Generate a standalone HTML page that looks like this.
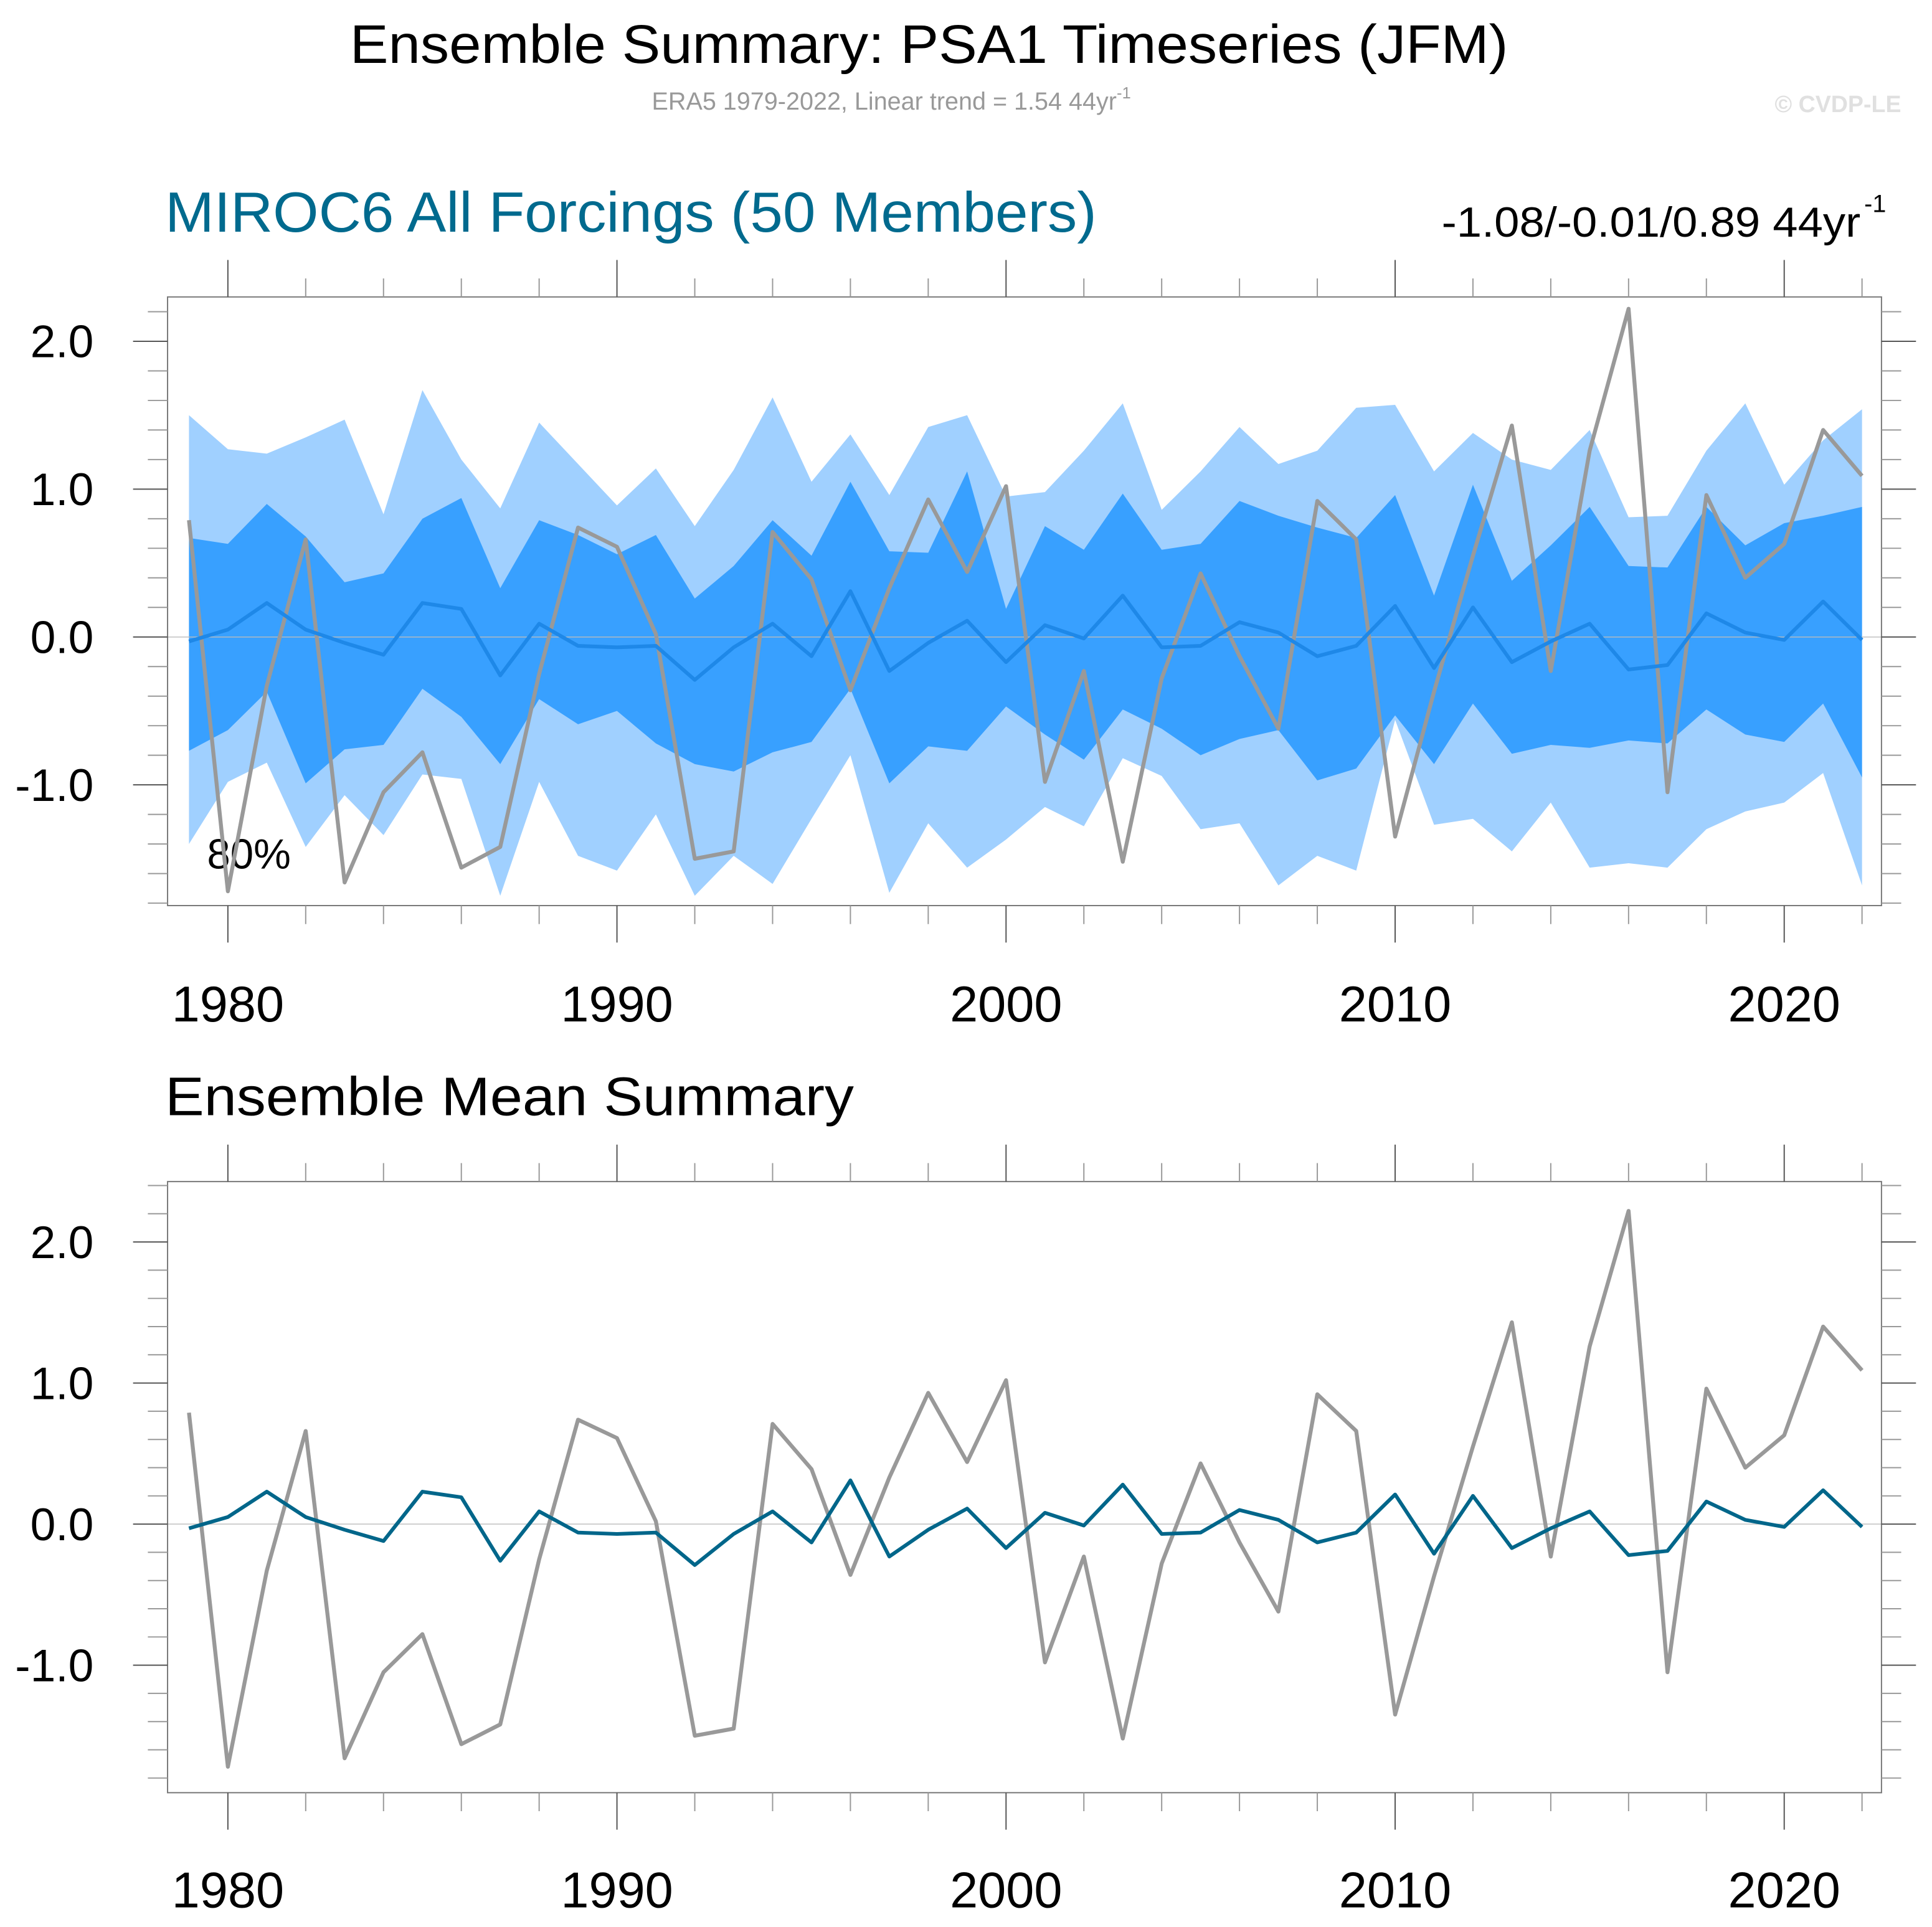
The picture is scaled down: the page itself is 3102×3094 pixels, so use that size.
<!DOCTYPE html>
<html><head><meta charset="utf-8"><style>
html,body{margin:0;padding:0;background:#fff;}
svg{display:block;font-family:"Liberation Sans",sans-serif;}
</style></head><body>
<svg id="chart" width="3102" height="3094" viewBox="0 0 1568 1564" preserveAspectRatio="none" xmlns="http://www.w3.org/2000/svg">
<text x="754" y="51" font-size="44" text-anchor="middle" textLength="940" lengthAdjust="spacingAndGlyphs">Ensemble Summary: PSA1 Timeseries (JFM)</text>
<text x="529" y="89" font-size="20" fill="#999">ERA5 1979-2022, Linear trend = 1.54 44yr<tspan font-size="13" dy="-9">-1</tspan></text>
<text x="1543" y="91" font-size="19" font-weight="bold" fill="#e0e0e0" text-anchor="end">© CVDP-LE</text>
<text x="134" y="188" font-size="46" fill="#006a8e" textLength="756" lengthAdjust="spacingAndGlyphs">MIROC6 All Forcings (50 Members)</text>
<text x="1170" y="192" font-size="34" textLength="340" lengthAdjust="spacingAndGlyphs">-1.08/-0.01/0.89 44yr</text>
<text x="1513" y="172" font-size="20">-1</text>
<text x="134" y="905" font-size="44" textLength="559" lengthAdjust="spacingAndGlyphs">Ensemble Mean Summary</text>
<g id="p1"></g>
<g id="p2"></g>
</svg>
<script>
const years = [1979,1980,1981,1982,1983,1984,1985,1986,1987,1988,1989,1990,1991,1992,1993,1994,1995,1996,1997,1998,1999,2000,2001,2002,2003,2004,2005,2006,2007,2008,2009,2010,2011,2012,2013,2014,2015,2016,2017,2018,2019,2020,2021,2022];
const obs = [0.79,-1.72,-0.33,0.66,-1.66,-1.05,-0.78,-1.56,-1.42,-0.25,0.74,0.61,0.02,-1.5,-1.45,0.71,0.39,-0.36,0.33,0.93,0.44,1.02,-0.98,-0.23,-1.52,-0.28,0.43,-0.13,-0.62,0.92,0.66,-1.35,-0.37,0.55,1.43,-0.23,1.26,2.22,-1.05,0.96,0.4,0.63,1.4,1.09];
const ensMean = [-0.03,0.05,0.23,0.05,-0.04,-0.12,0.23,0.19,-0.26,0.09,-0.06,-0.07,-0.06,-0.29,-0.07,0.09,-0.13,0.31,-0.23,-0.04,0.11,-0.17,0.08,-0.01,0.28,-0.07,-0.06,0.1,0.03,-0.13,-0.06,0.21,-0.21,0.2,-0.17,-0.03,0.09,-0.22,-0.19,0.16,0.03,-0.02,0.24,-0.02];
const outerHi = [1.5,1.27,1.24,1.35,1.47,0.83,1.67,1.2,0.87,1.45,1.17,0.89,1.14,0.75,1.13,1.62,1.05,1.37,0.96,1.42,1.5,0.95,0.98,1.26,1.58,0.86,1.12,1.42,1.17,1.26,1.55,1.57,1.12,1.38,1.2,1.13,1.4,0.81,0.82,1.26,1.58,1.03,1.33,1.54];
const outerLo = [-1.4,-0.98,-0.85,-1.42,-1.07,-1.34,-0.93,-0.96,-1.75,-0.98,-1.48,-1.58,-1.2,-1.75,-1.48,-1.67,-1.23,-0.8,-1.73,-1.26,-1.56,-1.37,-1.15,-1.28,-0.82,-0.94,-1.3,-1.26,-1.68,-1.48,-1.58,-0.56,-1.27,-1.23,-1.45,-1.12,-1.56,-1.53,-1.56,-1.3,-1.18,-1.12,-0.92,-1.68];
const innerHi = [0.67,0.63,0.9,0.68,0.37,0.43,0.8,0.94,0.33,0.79,0.69,0.56,0.69,0.26,0.48,0.79,0.55,1.05,0.58,0.57,1.12,0.19,0.75,0.59,0.97,0.59,0.63,0.92,0.82,0.74,0.67,0.96,0.28,1.03,0.38,0.62,0.88,0.48,0.47,0.88,0.62,0.77,0.82,0.88];
const innerLo = [-0.77,-0.63,-0.37,-0.99,-0.76,-0.73,-0.35,-0.54,-0.86,-0.42,-0.59,-0.5,-0.72,-0.86,-0.91,-0.78,-0.71,-0.35,-0.99,-0.74,-0.77,-0.47,-0.66,-0.83,-0.49,-0.62,-0.8,-0.69,-0.63,-0.97,-0.89,-0.53,-0.86,-0.45,-0.79,-0.73,-0.75,-0.7,-0.72,-0.49,-0.66,-0.71,-0.45,-0.95];
const yTickLabels = ["-1.0","0.0","1.0","2.0"];
const xTickLabels = ["1980","1990","2000","2010","2020"];

const NS="http://www.w3.org/2000/svg";
function mk(parent,tag,attrs){const e=document.createElementNS(NS,tag);for(const k in attrs)e.setAttribute(k,attrs[k]);parent.appendChild(e);return e;}
const xMin=1978.45, xMax=2022.5;
function xs(y){return 136+(y-xMin)/(xMax-xMin)*(1527-136);}

function panel(g,top,bot,vTop,vBot,bands,meanColor,labelY){
  const ys=v=>top+(vTop-v)/(vTop-vBot)*(bot-top);
  if(bands){
    const o=mk(g,'path',{d:poly(outerHi,outerLo,ys),fill:'#a0d0ff'});
    
    const i=mk(g,'path',{d:poly(innerHi,innerLo,ys),fill:'#38a0ff'});
    
    const t=mk(g,'text',{x:168,y:705,'font-size':34});t.textContent='80%';
    
  }
  const z=mk(g,'line',{x1:136,x2:1527,y1:ys(0),y2:ys(0),stroke:'#bbb','stroke-width':0.7});
  
  const ob=mk(g,'polyline',{points:years.map((y,k)=>xs(y)+','+ys(obs[k])).join(' '),fill:'none',stroke:'#999','stroke-width':3.2,'stroke-linejoin':'round'});
  
  const m=mk(g,'polyline',{points:years.map((y,k)=>xs(y)+','+ys(ensMean[k])).join(' '),fill:'none',stroke:meanColor,'stroke-width':3,'stroke-linejoin':'round'});
  
  const f=mk(g,'rect',{x:136,y:top,width:1391,height:bot-top,fill:'none',stroke:'#777','stroke-width':1});
  
  for(let v=Math.ceil(vBot*5)/5; v<=vTop+1e-6; v+=0.2){
    const r=Math.round(v*5)/5, major=Math.abs(r-Math.round(r))<1e-6, y=ys(r), L=major?28:16;
    mk(g,'line',{x1:136-L,x2:136,y1:y,y2:y,stroke:major?'#555':'#999','stroke-width':1});
    mk(g,'line',{x1:1527,x2:1527+L,y1:y,y2:y,stroke:major?'#555':'#999','stroke-width':1});
  }
  yTickLabels.forEach(s=>{const t=mk(g,'text',{x:76,y:ys(parseFloat(s))+13,'font-size':37,'text-anchor':'end'});t.textContent=s;
    });
  for(let yr=1980; yr<=2022; yr+=2){
    const major=yr%10===0, x=xs(yr), L=major?30:15;
    mk(g,'line',{x1:x,x2:x,y1:top-L,y2:top,stroke:major?'#555':'#999','stroke-width':1});
    mk(g,'line',{x1:x,x2:x,y1:bot,y2:bot+L,stroke:major?'#555':'#999','stroke-width':1});
  }
  xTickLabels.forEach(s=>{const t=mk(g,'text',{x:xs(+s),y:labelY,'font-size':41,'text-anchor':'middle'});t.textContent=s;
    });
}
function poly(hi,lo,ys){
  let d='M'+years.map((y,k)=>xs(y)+','+ys(hi[k])).join(' L');
  for(let k=years.length-1;k>=0;k--) d+=' L'+xs(years[k])+','+ys(lo[k]);
  return d+'Z';
}
panel(document.getElementById('p1'),241,735,2.3,-1.8167,true,'#1e88e8',829);
panel(document.getElementById('p2'),959,1455,2.428,-1.904,false,'#00668a',1548);
</script>
</body></html>
